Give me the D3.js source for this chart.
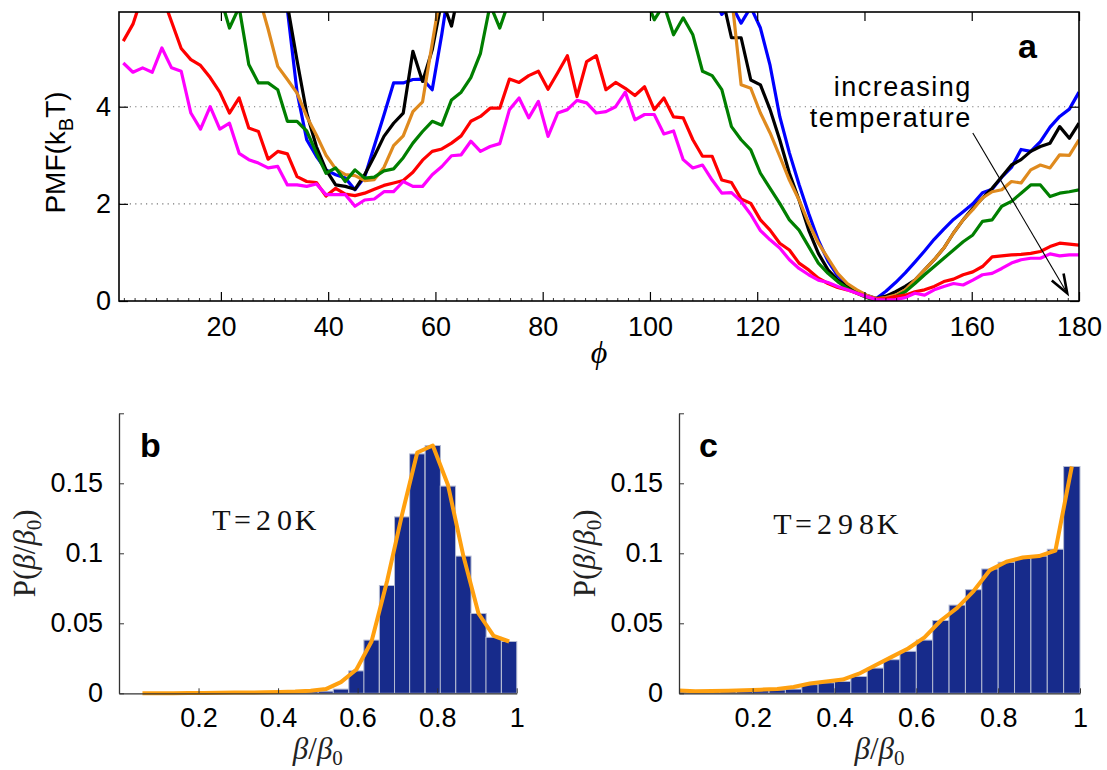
<!DOCTYPE html>
<html><head><meta charset="utf-8">
<script src="https://cdn.jsdelivr.net/npm/d3@7"></script>
<style>body{margin:0;background:#fff}svg{display:block}</style>
</head><body>
<svg id="chart" width="1107" height="770"></svg>
<script>
// ---------- Panel a data: PMF vs phi ----------
const phi = [1.8,3.6,5.4,7.2,9,10.8,12.6,14.4,16.2,18,
19.8,21.6,23.4,25.2,27,28.8,30.6,32.4,34.2,36,
37.8,39.6,41.4,43.2,45,46.8,48.6,50.4,52.2,54,
55.8,57.6,59.4,61.2,63,64.8,66.6,68.4,70.2,72,
73.8,75.6,77.4,79.2,81,82.8,84.6,86.4,88.2,90,
91.8,93.6,95.4,97.2,99,100.8,102.6,104.4,106.2,108,
109.8,111.6,113.4,115.2,117,118.8,120.6,122.4,124.2,126,
127.8,129.6,131.4,133.2,135,136.8,138.6,140.4,142.2,144,
145.8,147.6,149.4,151.2,153,154.8,156.6,158.4,160.2,162,
163.8,165.6,167.4,169.2,171,172.8,174.6,176.4,178.2,180];

const pmfBlue = [8,8,8,8,8,8,8,8,8,8,
8,8,8,8,8,8,7.5,6.0,4.3,3.32,
2.98,2.7,2.6,2.53,2.29,2.55,3.19,3.83,4.49,4.49,
4.56,4.57,4.35,5.5,6.8,8,8,8,8,8,
8,8,8,8,8,8,8,8,8,8,
8,8,8,8,8,8,8,8,8,8,
8,6.3,5.9,6.1,5.72,6.05,5.62,4.85,3.8,3.05,
2.4,1.8,1.25,0.82,0.52,0.32,0.2,0.12,0.05,0.2,
0.38,0.58,0.8,1.03,1.27,1.48,1.68,1.84,2.0,2.23,
2.3,2.55,2.75,3.12,3.08,3.28,3.58,3.8,3.95,4.3];

const pmfBlack = [8,8,8,8,8,8,8,8,8,8,
8,8,8,8,8,8,7.6,6.1,4.95,3.87,
3.18,2.7,2.39,2.36,2.3,2.6,2.98,3.39,3.66,3.87,
5.14,4.52,5.17,6.2,5.66,6.6,8,8,8,8,
8,8,8,8,8,8,8,8,8,8,
8,8,8,8,8,8,8,8,8,8,
8,7.5,6.3,5.42,5.42,4.55,4.45,3.94,3.32,2.63,
2.08,1.46,0.98,0.64,0.43,0.3,0.19,0.1,0.05,0.1,
0.19,0.3,0.43,0.64,0.85,1.09,1.4,1.67,1.91,2.12,
2.32,2.56,2.8,2.91,3.08,3.18,3.25,3.59,3.35,3.66];

const pmfOrange = [8,8,8,8,8,8,8,8,8,8,
8,8,7.8,7.2,6.3,5.6,4.83,4.56,4.28,3.8,
3.42,3.0,2.72,2.6,2.58,2.48,2.5,2.75,3.2,3.4,
3.9,4.1,5.3,6.5,7.5,8,8,8,8,8,
8,8,8,8,8,8,8,8,8,8,
8,8,8,8,8,8,8,8,8,8,
8,7.5,6.8,6.3,4.45,4.38,3.87,3.46,2.98,2.49,
2.08,1.6,1.19,0.88,0.57,0.36,0.23,0.12,0.05,0.07,
0.12,0.23,0.43,0.64,0.85,1.09,1.4,1.67,1.88,2.12,
2.25,2.29,2.46,2.43,2.7,2.8,2.74,3.01,3.0,3.32];

const pmfGreen = [8,8,8,8,8,7.8,7.5,7.2,6.9,6.6,
6.3,5.62,6.05,4.87,4.49,4.49,4.35,3.7,3.7,3.5,
3.05,2.63,2.74,2.46,2.7,2.53,2.55,2.68,2.72,2.95,
3.25,3.49,3.7,3.62,4.14,4.3,4.6,5.1,6.1,5.62,
6.2,6.8,7.3,7.6,7.8,8,8,8,8,8,
8,7.8,7.5,7.0,6.3,5.79,6.1,5.48,5.83,5.48,
4.73,4.64,4.35,3.59,3.32,3.11,2.63,2.32,2.01,1.67,
1.46,1.12,0.78,0.57,0.4,0.26,0.16,0.07,0.0,0.02,
0.09,0.19,0.36,0.54,0.71,0.88,1.05,1.22,1.36,1.64,
1.67,1.95,2.05,2.22,2.39,2.39,2.15,2.22,2.25,2.29];

const pmfRed = [5.35,5.7,6.3,6.6,6.3,5.75,5.2,4.97,4.85,4.6,
4.3,3.87,4.18,3.56,3.49,2.92,3.08,3.03,2.56,2.46,
2.44,2.16,2.32,2.2,2.17,2.22,2.3,2.38,2.43,2.48,
2.65,2.9,3.08,3.13,3.25,3.4,3.7,3.8,3.97,3.97,
4.57,4.5,4.64,4.73,4.36,4.7,5.05,4.21,4.93,5.05,
4.35,4.5,4.38,4.23,4.41,3.94,4.18,3.79,3.77,3.32,
2.98,2.98,2.49,2.44,2.1,2.01,1.67,1.46,1.19,1.05,
0.78,0.64,0.47,0.36,0.28,0.23,0.16,0.09,0.04,0.05,
0.09,0.12,0.19,0.23,0.3,0.4,0.45,0.54,0.6,0.71,
0.91,0.93,0.95,0.96,0.98,1.02,1.12,1.19,1.17,1.15];

const pmfMagenta = [4.9,4.71,4.8,4.71,5.21,4.8,4.73,3.87,3.54,4.0,
3.54,3.66,3.04,2.91,2.84,2.74,2.77,2.39,2.39,2.36,
2.41,2.19,2.19,2.19,1.95,2.08,2.1,2.25,2.25,2.46,
2.36,2.36,2.6,2.77,2.99,3.01,3.29,3.08,3.18,3.24,
3.94,4.18,3.77,4.11,3.39,3.87,3.94,4.13,4.08,3.87,
3.9,4.0,4.3,3.73,3.84,3.84,3.44,3.5,2.91,2.74,
2.8,2.49,2.22,2.23,2.05,1.78,1.45,1.26,1.09,0.85,
0.67,0.54,0.43,0.38,0.3,0.23,0.16,0.09,0.03,0.02,
0.03,0.07,0.16,0.12,0.23,0.3,0.36,0.33,0.43,0.54,
0.57,0.67,0.78,0.85,0.88,0.88,0.97,0.93,0.95,0.95];

const seriesNames = ["blue","black","orange","green","red","magenta"];
const seriesColors = ["#0000ff","#000000","#df8a1e","#007f00","#ff0000","#ff00ff"];
const seriesValues = [pmfBlue,pmfBlack,pmfOrange,pmfGreen,pmfRed,pmfMagenta];

const xTicksA = [20,40,60,80,100,120,140,160,180];
const yTicksA = [0,2,4];
const arrowFrom = [160.2,3.46];
const arrowTo = [177.8,0.16];
const annotationLines = ["increasing","temperature"];

// ---------- Panels b, c data: histograms ----------
const binCentersB = [0.059,0.098,0.136,0.175,0.213,0.251,0.290,0.328,0.366,0.405,
0.443,0.482,0.520,0.558,0.597,0.635,0.674,0.712,0.750,0.789,
0.827,0.866,0.904,0.942,0.981];
const binWidthB = 0.0384;
const barsB = [0,0,0,0,0.0002,0.0003,0.0004,0.0005,0.0006,0.0008,
0.001,0.0012,0.0015,0.003,0.016,0.038,0.077,0.126,0.171,0.177,
0.148,0.098,0.057,0.040,0.037];
const curveB = [0,0,0.0001,0.0002,0.0003,0.0004,0.0005,0.0006,0.0007,0.0009,
0.0012,0.0018,0.003,0.008,0.017,0.037,0.08,0.128,0.172,0.177,
0.149,0.098,0.057,0.041,0.037];

const binCentersC = [0.02,0.06,0.10,0.14,0.18,0.22,0.26,0.30,0.34,0.38,
0.42,0.46,0.50,0.54,0.58,0.62,0.66,0.70,0.74,0.78,
0.82,0.86,0.90,0.94,0.98];
const binWidthC = 0.04;
const barsC = [0.001,0.001,0.0012,0.0014,0.0017,0.0019,0.0024,0.003,0.0062,0.0075,
0.0085,0.012,0.018,0.024,0.03,0.038,0.052,0.063,0.074,0.0888,
0.0936,0.0964,0.098,0.1029,0.162];
const curveC = [0.002,0.0015,0.0016,0.0018,0.0022,0.0026,0.003,0.0045,0.007,0.0085,
0.0098,0.014,0.02,0.026,0.032,0.04,0.052,0.061,0.073,0.088,
0.094,0.097,0.098,0.102,0.162];

const xTicksBC = [0.2,0.4,0.6,0.8,1];
const yTicksBC = [0,0.05,0.1,0.15,0.2];

// ---------- drawing ----------
const SANS = "'Liberation Sans', Arial, Helvetica, sans-serif";
const SERIF = "'Liberation Serif', 'Times New Roman', serif";
const svg = d3.select('#chart');
const defs = svg.append('defs');

// ===== Panel a =====
const xA = d3.scaleLinear().domain([1,180]).range([119,1079]);
const yA = d3.scaleLinear().domain([0,5.95]).range([301,12]);
const [ax0,ax1] = xA.range(), [ay0,ay1] = yA.range();

defs.append('clipPath').attr('id','clipA').append('rect')
  .attr('x',ax0).attr('y',ay1).attr('width',ax1-ax0).attr('height',ay0-ay1);

const gA = svg.append('g');
gA.append('g').selectAll('line').data(yTicksA.filter(d=>d>0)).join('line')
  .attr('x1',ax0).attr('x2',ax1).attr('y1',d=>yA(d)).attr('y2',d=>yA(d))
  .attr('stroke','#777').attr('stroke-width',1.1).attr('stroke-dasharray','1.2,4.2');

const lineA = d3.line().x((d,i)=>xA(phi[i])).y(d=>yA(d));
gA.append('g').attr('clip-path','url(#clipA)').selectAll('path')
  .data(seriesValues).join('path')
  .attr('d',d=>lineA(d)).attr('fill','none')
  .attr('stroke',(d,i)=>seriesColors[i]).attr('stroke-width',3.2)
  .attr('stroke-linejoin','round').attr('stroke-linecap','butt');

function styleAxis(g, size){
  g.selectAll('.domain').remove();
  g.selectAll('.tick line').attr('stroke','#000').attr('stroke-width',1.2);
  g.selectAll('.tick text').attr('font-family',SANS).attr('font-size',size).attr('fill','#000');
}
const minorA = d3.range(2,180,2).filter(d=>d%20!==0);
gA.append('g').selectAll('line').data(minorA).join('line')
  .attr('x1',d=>xA(d)).attr('x2',d=>xA(d)).attr('y1',ay0).attr('y2',ay0-3)
  .attr('stroke','#000').attr('stroke-width',0.8);

gA.append('g').attr('transform',`translate(0,${ay0})`)
  .call(d3.axisBottom(xA).tickValues(xTicksA).tickSize(-9).tickPadding(16).tickFormat(d3.format('d')))
  .call(g=>styleAxis(g,27));
gA.append('g').attr('transform',`translate(0,${ay1})`)
  .call(d3.axisTop(xA).tickValues(xTicksA).tickSize(-9).tickFormat(''))
  .call(g=>styleAxis(g,27));
gA.append('g').attr('transform',`translate(${ax0},0)`)
  .call(d3.axisLeft(yA).tickValues(yTicksA).tickSize(-9).tickPadding(8).tickFormat(d3.format('d')))
  .call(g=>styleAxis(g,27));
gA.append('g').attr('transform',`translate(${ax1},0)`)
  .call(d3.axisRight(yA).tickValues(yTicksA).tickSize(-9).tickFormat(''))
  .call(g=>styleAxis(g,27));
gA.append('rect').attr('x',ax0).attr('y',ay1).attr('width',ax1-ax0).attr('height',ay0-ay1)
  .attr('fill','none').attr('stroke','#000').attr('stroke-width',1.6);

const yl = gA.append('text').attr('transform',`translate(65,${(ay0+ay1)/2-4}) rotate(-90)`)
  .attr('text-anchor','middle').attr('font-family',SANS).attr('font-size',28).attr('fill','#000');
yl.append('tspan').text('PMF(k');
yl.append('tspan').attr('font-size',20).attr('dy',8).text('B');
yl.append('tspan').attr('dy',-8).text('T)');

gA.append('text').attr('x',(ax0+ax1)/2).attr('y',363).attr('text-anchor','middle')
  .attr('font-family',SERIF).attr('font-style','italic').attr('font-size',32).text('\u03D5');

gA.append('text').attr('x',1018).attr('y',58).attr('font-family',SANS).attr('font-weight','bold')
  .attr('font-size',34).text('a');

gA.selectAll('text.annot').data(annotationLines).join('text').attr('class','annot')
  .attr('x',xA(arrowFrom[0])-1).attr('y',(d,i)=>96+i*31).attr('text-anchor','end')
  .attr('font-family',SANS).attr('font-size',27).attr('letter-spacing',1.5).text(d=>d);
const p0=[xA(arrowFrom[0]),yA(arrowFrom[1])], p1=[xA(arrowTo[0]),yA(arrowTo[1])];
gA.append('line').attr('x1',p0[0]).attr('y1',p0[1]).attr('x2',p1[0]).attr('y2',p1[1])
  .attr('stroke','#000').attr('stroke-width',1.1);
{
  const ang = Math.atan2(p0[1]-p1[1], p0[0]-p1[0]);
  const L=20, a=20*Math.PI/180;
  const w1=[p1[0]+L*Math.cos(ang+a), p1[1]+L*Math.sin(ang+a)];
  const w2=[p1[0]+L*Math.cos(ang-a), p1[1]+L*Math.sin(ang-a)];
  gA.append('path').attr('d',`M${w1}L${p1}L${w2}`).attr('fill','none')
    .attr('stroke','#000').attr('stroke-width',2.6).attr('stroke-linejoin','miter');
}

// ===== Panels b and c =====
function histPanel(opts){
  const {x, y, centers, width, bars, curve, letter, letterX, temp, tempX, tempY, labelX, id} = opts;
  const g = svg.append('g');
  const [x0,x1] = x.range(), [y0,y1] = y.range();
  defs.append('clipPath').attr('id',id).append('rect')
    .attr('x',x0).attr('y',y1-5).attr('width',x1-x0+2).attr('height',y0-y1+10);
  const plot = g.append('g').attr('clip-path',`url(#${id})`);
  plot.selectAll('rect').data(bars).join('rect')
    .attr('x',(d,i)=>x(centers[i]-width/2))
    .attr('width',(d,i)=>x(centers[i]+width/2)-x(centers[i]-width/2))
    .attr('y',d=>y(d)).attr('height',d=>y(0)-y(d))
    .attr('fill','#172b8b').attr('stroke','#b4bbd2').attr('stroke-width',1);
  plot.append('path').datum(curve)
    .attr('d',d3.line().x((d,i)=>x(centers[i])).y(d=>y(d)))
    .attr('fill','none').attr('stroke','#ffa00f').attr('stroke-width',4)
    .attr('stroke-linejoin','round');
  const fmt = d => d===0.2 ? '' : (d===0 ? '0' : String(d));
  g.append('g').attr('transform',`translate(${x0},0)`)
    .call(d3.axisLeft(y).tickValues(yTicksBC).tickSize(-5).tickSizeOuter(0).tickPadding(16).tickFormat(fmt))
    .call(gg=>{gg.select('.domain').attr('stroke','#333').attr('stroke-width',1.3);
      gg.selectAll('.tick line').attr('stroke','#333');
      gg.selectAll('.tick text').attr('font-family',SANS).attr('font-size',27).attr('fill','#000');});
  g.append('g').attr('transform',`translate(0,${y0})`)
    .call(d3.axisBottom(x).tickValues(xTicksBC).tickSize(-5).tickSizeOuter(0).tickPadding(14.5).tickFormat(d=>String(d)))
    .call(gg=>{gg.select('.domain').attr('stroke','#333').attr('stroke-width',1.3);
      gg.selectAll('.tick line').attr('stroke','#333');
      gg.selectAll('.tick text').attr('font-family',SANS).attr('font-size',27).attr('fill','#000');});
  g.append('text').attr('x',letterX).attr('y',457).attr('font-family',SANS).attr('font-weight','bold')
    .attr('font-size',34).text(letter);
  // temperature label: typewriter-like, fixed-width cells
  const cell = 21;
  g.append('g').selectAll('text').data(temp.split('')).join('text')
    .attr('x',(d,i)=>tempX + cell*i + cell/2).attr('y',tempY).attr('text-anchor','middle')
    .attr('font-family',SERIF).attr('font-size',30).attr('fill','#111').text(d=>d);
  const yl = g.append('text').attr('transform',`translate(${labelX},${(y0+y1)/2}) rotate(-90)`)
    .attr('text-anchor','middle').attr('font-family',SERIF).attr('font-size',31).attr('fill','#222');
  yl.append('tspan').text('P(');
  yl.append('tspan').attr('font-style','italic').text('β');
  yl.append('tspan').text('/');
  yl.append('tspan').attr('font-style','italic').text('β');
  yl.append('tspan').attr('font-size',21).attr('dy',6).text('0');
  yl.append('tspan').attr('dy',-6).text(')');
  const xl = g.append('text').attr('x',(x0+x1)/2).attr('y',759).attr('text-anchor','middle')
    .attr('font-family',SERIF).attr('font-size',31).attr('fill','#222');
  xl.append('tspan').attr('font-style','italic').text('β');
  xl.append('tspan').text('/');
  xl.append('tspan').attr('font-style','italic').text('β');
  xl.append('tspan').attr('font-size',21).attr('dy',6).text('0');
}

const yBC = d3.scaleLinear().domain([0,0.2]).range([693.3,413.3]);
histPanel({x:d3.scaleLinear().domain([0,1]).range([119,516.7]), y:yBC,
  centers:binCentersB, width:binWidthB, bars:barsB, curve:curveB,
  letter:'b', letterX:140, temp:'T=20K', tempX:211, tempY:530, labelX:35, id:'clipB'});
histPanel({x:d3.scaleLinear().domain([0.02,1]).range([679,1080]), y:yBC,
  centers:binCentersC, width:binWidthC, bars:barsC, curve:curveC,
  letter:'c', letterX:699, temp:'T=298K', tempX:772, tempY:534, labelX:595, id:'clipC'});
</script>
</body></html>
